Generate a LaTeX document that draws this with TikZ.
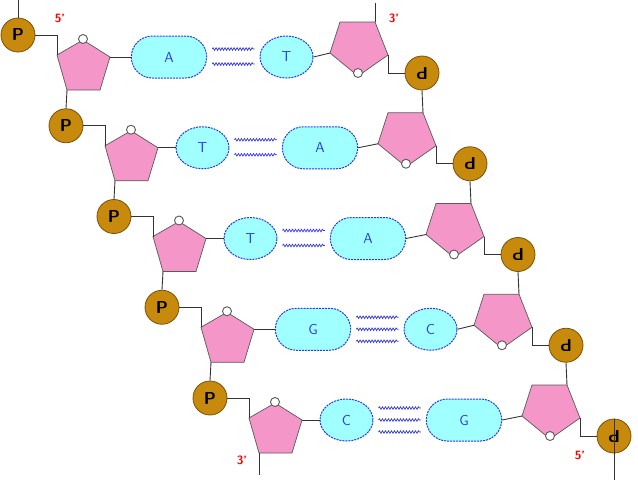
\documentclass[tikz,border=0pt]{standalone}
\usetikzlibrary{decorations.pathmorphing,shapes.misc,shapes.geometric}
\definecolor{pgold}{RGB}{200,138,12}
\definecolor{pgoldd}{RGB}{120,80,10}
\definecolor{sugar}{RGB}{245,150,200}
\definecolor{basec}{RGB}{160,255,255}
\definecolor{baseb}{RGB}{40,60,230}
\definecolor{bondc}{RGB}{50,50,230}
\tikzset{
 x=1pt,y=-1pt,
 phos/.style={circle,draw=pgoldd,fill=pgold,line width=0.8pt,minimum size=34pt,inner sep=0pt,font=\sffamily\bfseries\LARGE},
 sug/.style={draw=gray!70!black,fill=sugar,line width=0.7pt},
 oxy/.style={circle,draw=gray!70!black,fill=white,line width=0.9pt,minimum size=9pt,inner sep=0pt},
 longbase/.style={rounded rectangle,draw=baseb,dash pattern=on 2pt off 1pt,line width=1pt,fill=basec,minimum width=82pt,minimum height=42pt,font=\sffamily\Large,text=baseb},
 shortbase/.style={ellipse,draw=baseb,dash pattern=on 2pt off 1pt,line width=1pt,fill=basec,minimum width=53pt,minimum height=42pt,font=\sffamily\Large,text=baseb},
 bond/.style={draw=bondc,line width=0.7pt,decorate,decoration={snake,segment length=3pt,amplitude=1.3pt}},
 link/.style={draw=gray!40!black,line width=0.9pt},
 lab/.style={text=red,font=\sffamily\bfseries\large}
}
\begin{document}
\begin{tikzpicture}
\useasboundingbox (0,0) rectangle (638,480);
\foreach \i/\L/\R/\lt/\rt/\nb in {0/A/T/longbase/shortbase/2,1/T/A/shortbase/longbase/2,2/T/A/shortbase/longbase/2,3/G/C/longbase/shortbase/3,4/C/G/shortbase/longbase/3}{
 \begin{scope}[shift={(48*\i,90.75*\i)}]
  \filldraw[sug] (83,40) coordinate (ls\i) -- (57,55) coordinate (lul\i) -- (67,90) coordinate (lll\i) -- (100,90) -- (110,57) coordinate (lur\i) -- cycle;
  \node[oxy] (lo\i) at (83,39) {};
  \filldraw[sug] (340,22) -- (375,22) coordinate (rur\i) -- (388,55) coordinate (rr\i) -- (358,76) -- (330,53) coordinate (rl\i) -- cycle;
  \node[oxy] (ro\i) at (358,73) {};
  \node[phos] (p\i) at (18,35) {P};
  \node[phos,rotate=180] (d\i) at (422,73) {P};
  \ifnum\pdfstrcmp{\lt}{longbase}=0
    \node[\lt] (bl\i) at (169,57) {\L};
  \else
    \node[\lt] (bl\i) at (154.5,57) {\L};
  \fi
  \ifnum\pdfstrcmp{\rt}{longbase}=0
    \node[\rt] (br\i) at (272,57) {\R};
  \else
    \node[\rt] (br\i) at (286.5,57) {\R};
  \fi
  \draw[link] (p\i.east) -| (lul\i);
  \draw[link] (lur\i) -- (bl\i.west);
  \draw[link] (br\i.east) -- (rl\i);
  \draw[link] (rr\i) |- (d\i.east);
  \ifnum\nb=2
    \draw[bond] ([xshift=5pt,yshift=8pt]bl\i.east) -- ([xshift=-5pt,yshift=8pt]br\i.west);
    \draw[bond] ([xshift=5pt,yshift=-7pt]bl\i.east) -- ([xshift=-5pt,yshift=-7pt]br\i.west);
  \else
    \draw[bond] ([xshift=5pt,yshift=12pt]bl\i.east) -- ([xshift=-5pt,yshift=12pt]br\i.west);
    \draw[bond] ([xshift=5pt]bl\i.east) -- ([xshift=-5pt]br\i.west);
    \draw[bond] ([xshift=5pt,yshift=-12pt]bl\i.east) -- ([xshift=-5pt,yshift=-12pt]br\i.west);
  \fi
 \end{scope}
}
\foreach \i/\j in {0/1,1/2,2/3,3/4}{
  \draw[link] (lll\i) -- (p\j.north);
  \draw[link] (d\i.north) -- (rur\j);
}
\coordinate (top0) at (18,0);
\coordinate (top1) at (375,3);
\coordinate (bot0) at (259,475);
\coordinate (bot1) at (614,480);
\draw[link] (p0.north) -- (top0);
\draw[link] (rur0) -- (top1);
\draw[link] (lll4) -- (bot0);
\draw[link] (d4.south) -- (bot1);
\node[lab] (l5a) at (60,18) {5'};
\node[lab] (l3a) at (394,18) {3'};
\node[lab] (l3b) at (242,460) {3'};
\node[lab] (l5b) at (580,455) {5'};
\end{tikzpicture}
\end{document}
